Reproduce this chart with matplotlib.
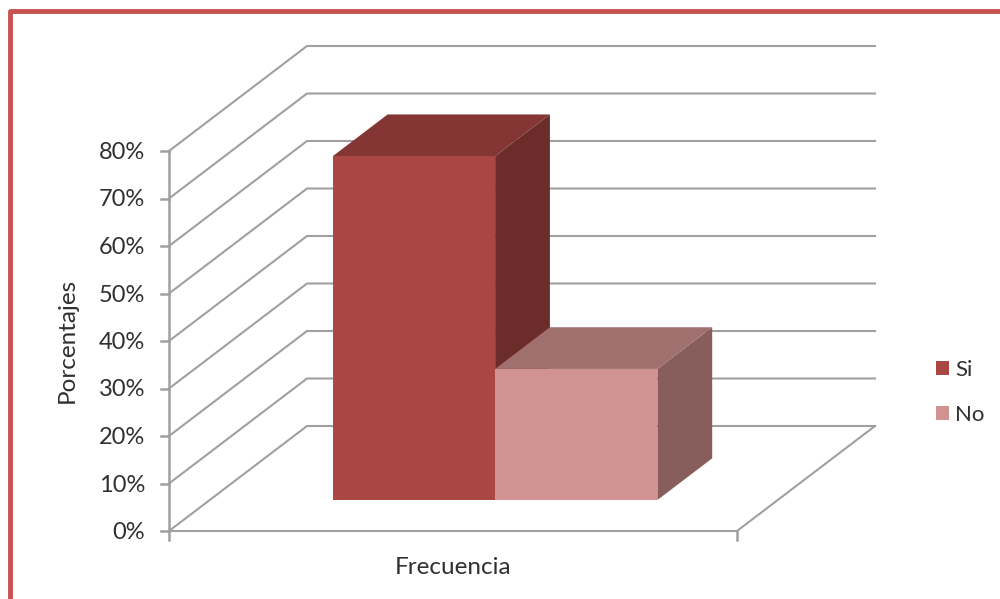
import matplotlib
matplotlib.use("Agg")
import matplotlib.pyplot as plt
from matplotlib.patches import Patch, Polygon

category = "Frecuencia"
seriesNames = ["Si", "No"]
seriesValues = [72.4, 27.6]
percentTicks = [0, 10, 20, 30, 40, 50, 60, 70, 80]
yLabel = "Porcentajes"

frontColors = ["#AA4643", "#D19392"]
topColors = ["#843634", "#A0706F"]
sideColors = ["#6C2C2A", "#885E5D"]
gridColor = "#A0A0A0"
borderColor = "#C75250"
textColor = "#303030"

plt.rcParams["font.family"] = ["Lato", "DejaVu Sans"]

# 3D box layout on the page, in pixels
originX, originY = 169, 531
plotWidth = 568
depthX, depthY = 138, -105
pxPerPercent = 47.5
barWidth = 0.2857
barStart = 0.2168
depthNear, depthFar = 0.295, 0.692


def project(x, value, depth):
    return (originX + x*plotWidth + depth*depthX,
            originY - value*pxPerPercent/10 + depth*depthY)


fig = plt.figure(figsize=(10, 5.99), dpi=100)
ax = fig.add_axes([0, 0, 1, 1])
ax.set_xlim(0, 1000)
ax.set_ylim(599, 0)
ax.axis("off")

# outer frame, only top and left are visible
ax.plot([9.8, 9.8, 1000], [599, 10.5, 10.5], color=borderColor, lw=3.5,
        solid_joinstyle="round", zorder=1)

# wall and floor grid
for v in percentTicks:
    pts = [project(0, v, 0), project(0, v, 1), project(1, v, 1)]
    ax.plot(*zip(*pts), color=gridColor, lw=1.5, zorder=2)
    x0, y0 = project(0, v, 0)
    ax.plot([x0-8, x0], [y0, y0], color=gridColor, lw=1.8, zorder=2)
    ax.text(x0-24, y0+1.5, f"{v}%", ha="right", va="center", fontsize=17, color=textColor)

floor = [project(0, 0, 0), project(1, 0, 0), project(1, 0, 1)]
ax.plot(*zip(*floor), color=gridColor, lw=1.5, zorder=2)
ax.plot(*zip(project(0, 0, 0), project(0, percentTicks[-1], 0)), color=gridColor, lw=1.8, zorder=2)
for x in [0, 1]:
    x0, y0 = project(x, 0, 0)
    ax.plot([x0, x0], [y0, y0+9], color=gridColor, lw=1.8, zorder=2)

# bars: right side, top, then front face
for i, value in enumerate(seriesValues):
    left = barStart + i*barWidth
    right = left + barWidth
    side = [project(right, 0, depthNear), project(right, 0, depthFar),
            project(right, value, depthFar), project(right, value, depthNear)]
    top = [project(left, value, depthNear), project(left, value, depthFar),
           project(right, value, depthFar), project(right, value, depthNear)]
    front = [project(left, 0, depthNear), project(right, 0, depthNear),
             project(right, value, depthNear), project(left, value, depthNear)]
    z = 3 + i
    ax.add_patch(Polygon(side, closed=True, fc=sideColors[i], ec="none", zorder=z))
    ax.add_patch(Polygon(top, closed=True, fc=topColors[i], ec="none", zorder=z))
    ax.add_patch(Polygon(front, closed=True, fc=frontColors[i], ec="none", zorder=z))

ax.text(67, 340, yLabel, rotation=90, ha="center", va="center", fontsize=17.5, color=textColor)
ax.text(453, 567.5, category, ha="center", va="center", fontsize=17.5, color=textColor)

handles = [Patch(fc=c, ec="none", label=n) for c, n in zip(frontColors, seriesNames)]
fontSize = 16
ax.legend(handles=handles, loc="center left", bbox_to_anchor=(0.936, 0.345),
          frameon=False, fontsize=fontSize, labelcolor=textColor,
          handlelength=0.59, handleheight=0.59, handletextpad=0.27,
          labelspacing=1.15, borderpad=0, borderaxespad=0)

fig.savefig("out.png", dpi=100, facecolor="white")
